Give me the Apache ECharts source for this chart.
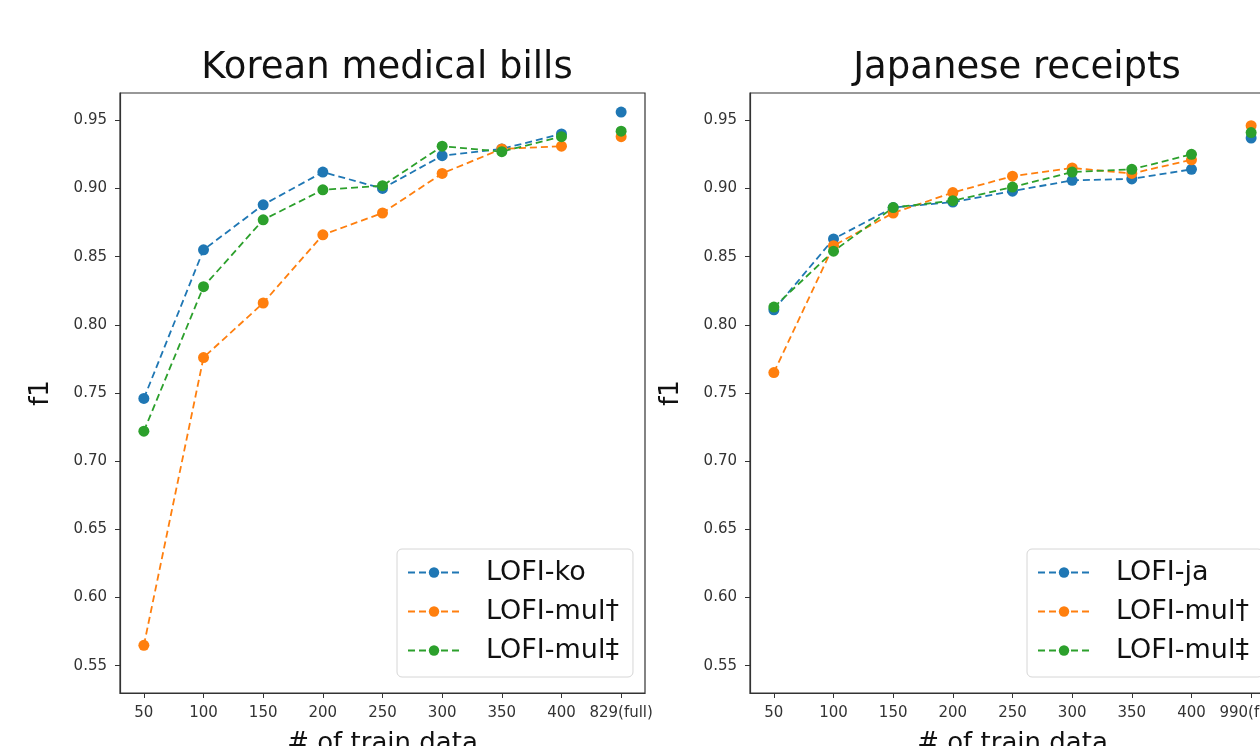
<!DOCTYPE html>
<html>
<head>
<meta charset="utf-8">
<script src="https://cdn.jsdelivr.net/npm/echarts@6/dist/echarts.min.js"></script>
<style>
  html, body { margin: 0; padding: 0; background: #fff; }
  #chart { width: 1260px; height: 746px; }
</style>
</head>
<body>
<div id="chart"></div>
<script>
// ---- data ----
const xLabelsKo = ['50', '100', '150', '200', '250', '300', '350', '400', '829(full)'];
const xLabelsJa = ['50', '100', '150', '200', '250', '300', '350', '400', '990(full)'];
const yTicks = [0.55, 0.60, 0.65, 0.70, 0.75, 0.80, 0.85, 0.90, 0.95];

const koLofiKo  = [0.746, 0.855, 0.888, 0.912, 0.900, 0.924, 0.929, 0.940, 0.956];
const koMulDag  = [0.565, 0.776, 0.816, 0.866, 0.882, 0.911, 0.929, 0.931, 0.938];
const koMulDDag = [0.722, 0.828, 0.877, 0.899, 0.902, 0.931, 0.927, 0.938, 0.942];

const jaLofiJa  = [0.811, 0.863, 0.886, 0.890, 0.898, 0.906, 0.907, 0.914, 0.937];
const jaMulDag  = [0.765, 0.858, 0.882, 0.897, 0.909, 0.915, 0.911, 0.921, 0.946];
const jaMulDDag = [0.813, 0.854, 0.886, 0.891, 0.901, 0.912, 0.914, 0.925, 0.941];

const titles = ['Korean medical bills', 'Japanese receipts'];
const seriesNamesKo = ['LOFI-ko', 'LOFI-mul\u2020', 'LOFI-mul\u2021'];
const seriesNamesJa = ['LOFI-ja', 'LOFI-mul\u2020', 'LOFI-mul\u2021'];
const colors = ['#1f77b4', '#ff7f0e', '#2ca02c'];

// ---- build ----
const FONT = 'DejaVu Sans';
const gridDefs = [
  { left: 120, width: 525, top: 93, height: 600 },
  { left: 750, width: 525, top: 93, height: 600 }
];

function xAxisFor(idx, labels) {
  const ticks = labels.map((_, i) => i);
  return {
    type: 'value', gridIndex: idx, min: -0.4, max: 8.4,
    name: '# of train data', nameLocation: 'middle', nameGap: 38,
    nameTextStyle: { fontFamily: FONT, fontSize: 26, color: '#111' },
    axisLine: { show: true, onZero: false, lineStyle: { color: '#333', width: 1.2 } },
    axisTick: { show: true, customValues: ticks, length: 5, lineStyle: { color: '#333' } },
    axisLabel: { customValues: ticks, margin: 13, fontFamily: FONT, fontSize: 15, color: '#333',
      formatter: v => labels[Math.round(v)] },
    splitLine: { show: false }
  };
}
function yAxisFor(idx) {
  return {
    type: 'value', gridIndex: idx, min: 0.53, max: 0.97,
    name: 'f1', nameLocation: 'middle', nameGap: 66, nameRotate: 90,
    nameTextStyle: { fontFamily: FONT, fontSize: 26, color: '#111' },
    axisLine: { show: true, onZero: false, lineStyle: { color: '#333', width: 1.2 } },
    axisTick: { show: true, customValues: yTicks, length: 5, lineStyle: { color: '#333' } },
    axisLabel: { customValues: yTicks, margin: 13, fontFamily: FONT, fontSize: 15, color: '#333',
      formatter: v => v.toFixed(2) },
    splitLine: { show: false }
  };
}

const series = [];
function addSeries(gi, names, arrays) {
  arrays.forEach((arr, k) => {
    const lineData = arr.slice(0, 8).map((v, i) => [i, v]);
    series.push({
      type: 'line', name: names[k], xAxisIndex: gi, yAxisIndex: gi,
      data: lineData, symbol: 'circle', symbolSize: 11, showSymbol: true,
      color: colors[k],
      lineStyle: { type: [7, 4], width: 1.8, color: colors[k] },
      itemStyle: { color: colors[k], opacity: 1 },
      emphasis: { disabled: true }, animation: false
    });
    series.push({
      type: 'scatter', name: names[k], xAxisIndex: gi, yAxisIndex: gi,
      data: [[8, arr[8]]], symbol: 'circle', symbolSize: 11,
      itemStyle: { color: colors[k], opacity: 1 }, emphasis: { disabled: true }, animation: false
    });
  });
}
addSeries(0, seriesNamesKo, [koLofiKo, koMulDag, koMulDDag]);
addSeries(1, seriesNamesJa, [jaLofiJa, jaMulDag, jaMulDDag]);

function legendFor(left, names) {
  return {
    orient: 'vertical', left: left, top: 549,
    data: names, selectedMode: false,
    itemWidth: 52, itemHeight: 13, itemGap: 12,
    padding: [10, 14, 13, 10],
    backgroundColor: 'rgba(255,255,255,0.85)', borderColor: '#d6d6d6', borderWidth: 1, borderRadius: 5,
    textStyle: { fontFamily: FONT, fontSize: 27, color: '#111', padding: [0, 0, 0, 21] }
  };
}

const option = {
  backgroundColor: '#ffffff',
  animation: false,
  title: [
    { text: titles[0], left: 382, top: 45, textAlign: 'center',
      textStyle: { fontFamily: FONT, fontSize: 37, fontWeight: 'normal', color: '#111' } },
    { text: titles[1], left: 1012, top: 45, textAlign: 'center',
      textStyle: { fontFamily: FONT, fontSize: 37, fontWeight: 'normal', color: '#111' } }
  ],
  grid: gridDefs.map(g => Object.assign({ show: true, borderColor: '#333', borderWidth: 1.2,
    backgroundColor: 'transparent', containLabel: false, outerBoundsMode: 'none' }, g)),
  xAxis: [xAxisFor(0, xLabelsKo), xAxisFor(1, xLabelsJa)],
  yAxis: [yAxisFor(0), yAxisFor(1)],
  legend: [legendFor(397, seriesNamesKo), legendFor(1027, seriesNamesJa)],
  series: series
};

const chart = echarts.init(document.getElementById('chart'), null, { renderer: 'canvas' });
chart.setOption(option);
</script>
</body>
</html>
